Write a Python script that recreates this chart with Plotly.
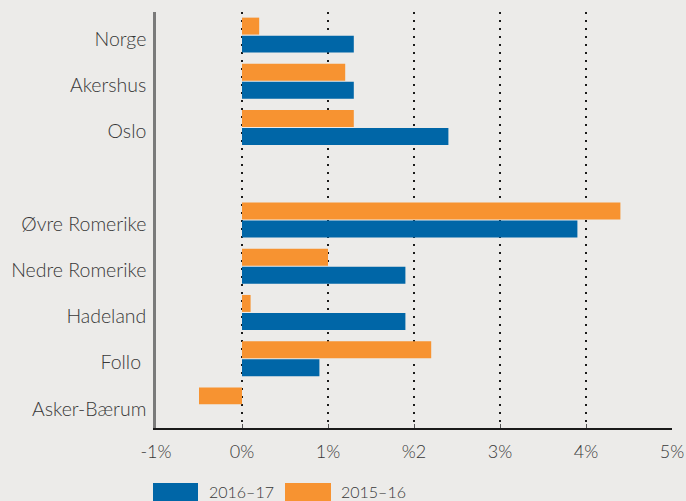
import plotly.graph_objects as go

categories = ["Norge", "Akershus", "Oslo", " ", "Øvre Romerike", "Nedre Romerike",
              "Hadeland", "Follo ", "Asker-Bærum"]
v_2015_16 = [0.2, 1.2, 1.3, None, 4.4, 1.0, 0.1, 2.2, -0.5]
v_2016_17 = [1.3, 1.3, 2.4, None, 3.9, 1.9, 1.9, 0.9, 0.0]
tick_vals = [-1, 0, 1, 2, 3, 4, 5]
tick_text = ["-1%", "0%", "1%", "%2", "3%", "4%", "5%"]
series_names = ["2016–17", "2015–16"]

BLUE = "#0066A7"
ORANGE = "#F79331"
BG = "#ECEBE9"
TXT = "#383838"
FONT = "Lato Light, Lato"

fig = go.Figure()
fig.add_trace(go.Bar(y=categories, x=v_2015_16, orientation="h", name=series_names[1],
                     marker=dict(color=ORANGE, line=dict(width=0))))
fig.add_trace(go.Bar(y=categories, x=v_2016_17, orientation="h", name=series_names[0],
                     marker=dict(color=BLUE, line=dict(width=0))))

fig.update_layout(
    width=686, height=501,
    margin=dict(l=156, r=14, t=12, b=73, autoexpand=False),
    paper_bgcolor=BG, plot_bgcolor=BG,
    barmode="group", bargap=0.22, bargroupgap=0.06,
    showlegend=False,
    font=dict(family=FONT, size=19, color=TXT, weight=300),
)
fig.update_xaxes(
    range=[-1, 5], tickvals=tick_vals, ticktext=tick_text,
    showgrid=True, gridcolor="#1a1a1a", griddash="2px,6px", gridwidth=1.5,
    zeroline=False, showline=True, linecolor="#1a1a1a", linewidth=1.5,
    ticks="inside", ticklen=4, tickcolor="#555", tickwidth=1,
    tickfont=dict(family=FONT, size=18, color=TXT, weight=300),
    ticklabelstandoff=7, automargin=False,
)
fig.update_yaxes(
    type="category", categoryorder="array", categoryarray=categories,
    autorange="reversed", showgrid=False, zeroline=False,
    showline=True, linecolor="#7a7a7a", linewidth=2.5,
    ticks="", ticklabelstandoff=3, ticklabelshift=-4, automargin=False,
    tickfont=dict(family=FONT, size=19.5, color=TXT, weight=300),
)

# custom legend at the bottom
legend_items = [(series_names[0], BLUE, 153, 198, 207), (series_names[1], ORANGE, 285, 331, 339)]
def px_x(p):
    return (p - 156) / 516
def px_y(p):
    return (428 - p) / 416
for name, col, x0, x1, tx in legend_items:
    fig.add_shape(type="rect", xref="paper", yref="paper",
                  x0=px_x(x0), x1=px_x(x1), y0=px_y(483), y1=px_y(510),
                  fillcolor=col, line=dict(width=0), layer="above")
    fig.add_annotation(xref="paper", yref="paper", x=px_x(tx), y=px_y(491),
                       text=name, showarrow=False, xanchor="left", yanchor="middle",
                       font=dict(family=FONT, size=16, color=TXT, weight=300))

fig.write_html(
    "out.html",
    config={"displayModeBar": False},
    post_script="document.body.style.margin='0';document.body.style.background='%s';"
                "document.body.style.overflow='hidden';" % BG,
)
